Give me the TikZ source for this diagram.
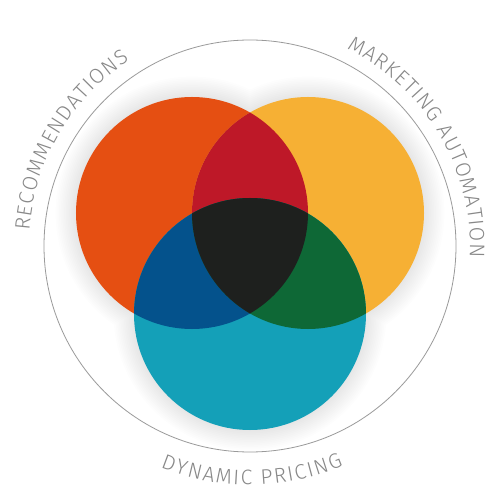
\documentclass[tikz,border=0pt]{standalone}
\usepackage{fontspec}
\newfontfamily\lbl{Fira Sans Light}
\usetikzlibrary{decorations.text}
\definecolor{cOrange}{HTML}{E54F12}
\definecolor{cYellow}{HTML}{F6B034}
\definecolor{cTeal}{HTML}{14A0B8}
\definecolor{cRed}{HTML}{BE1828}
\definecolor{cBlue}{HTML}{04528C}
\definecolor{cGreen}{HTML}{0E6836}
\definecolor{cDark}{HTML}{1E201E}
\definecolor{cLabel}{HTML}{888888}
\definecolor{cRing}{HTML}{9A9A9A}
\tikzset{
  arclabel/.style={decorate, decoration={text along path, text align={fit to path},
    text={|\lbl\fontsize{21}{25}\selectfont\color{cLabel}|#1}}}
}
\begin{document}
\begin{tikzpicture}[x=1pt,y=1pt]
\useasboundingbox (-250,-254) rectangle (250,246);
\fill[white] (-250,-254) rectangle (250,246);
\coordinate (O) at (0,0);
\coordinate (L) at (-58,33);
\coordinate (R) at (58,33);
\coordinate (B) at (0,-68);
% soft halo
\foreach \k in {1,...,12}{
  \fill[black, opacity=0.006] (L) circle ({116+1.7*\k}) (R) circle ({116+1.7*\k}) (B) circle ({116+1.7*\k});
}
% outer ring
\draw[cRing, line width=0.8pt] (O) circle (206);
% circles
\fill[cOrange] (L) circle (116);
\fill[cYellow] (R) circle (116);
\fill[cTeal] (B) circle (116);
\begin{scope}
  \clip (L) circle (116);
  \fill[cRed] (R) circle (116);
  \fill[cBlue] (B) circle (116);
\end{scope}
\begin{scope}
  \clip (R) circle (116);
  \fill[cGreen] (B) circle (116);
  \clip (L) circle (116);
  \fill[cDark] (B) circle (116);
\end{scope}
% labels
\path[arclabel={RECOMMENDATIONS}] (176:221) arc[start angle=176, end angle=123, radius=221];
\path[arclabel={MARKETING AUTOMATION}] (64:220) arc[start angle=64, end angle=-3, radius=220];
\path[arclabel={DYNAMIC PRICING}] (248:239) arc[start angle=248, end angle=293, radius=239];
\end{tikzpicture}
\end{document}
